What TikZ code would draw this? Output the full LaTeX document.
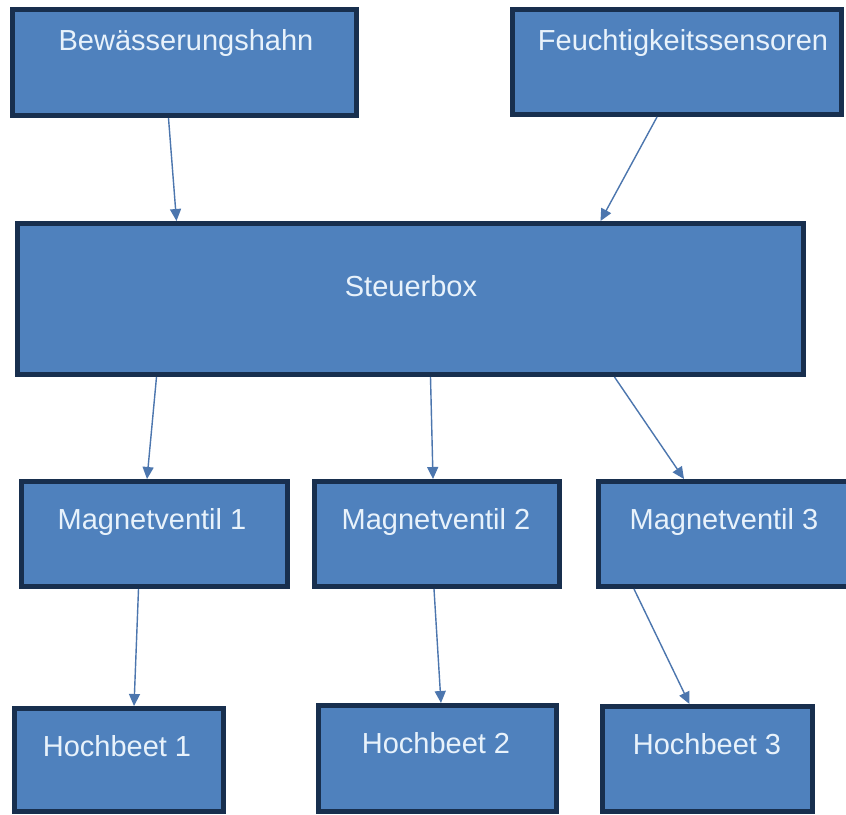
\documentclass[tikz,border=0pt]{standalone}
\usepackage{fontspec}
\setmainfont{Liberation Sans}
\usetikzlibrary{arrows.meta}
\definecolor{boxfill}{HTML}{4F81BD}
\definecolor{boxedge}{HTML}{182F4E}
\definecolor{linkblue}{HTML}{4C76AE}
\definecolor{labeltext}{HTML}{E8F2FB}
\tikzset{
  block/.style={draw=boxedge, fill=boxfill, line width=5pt, rectangle, inner sep=0pt},
  caption/.style={text=labeltext, anchor=base, inner sep=0pt, font=\fontsize{29}{34}\selectfont},
  link/.style={draw=linkblue, line width=1.4pt, -{Triangle[length=12pt,width=11pt]}},
}
\begin{document}
\begin{tikzpicture}[x=1pt,y=-1pt]
\useasboundingbox[fill=white] (0,0) rectangle (846,814);

% top row
\node[block, minimum width=344pt, minimum height=106pt] (b1) at (184.5,62.5) {};
\node[block, minimum width=329pt, minimum height=105pt] (b2) at (677,62) {};
% control box
\node[block, minimum width=786pt, minimum height=151pt] (st) at (410.5,299) {};
% valves
\node[block, minimum width=266pt, minimum height=105pt] (m1) at (154.5,534) {};
\node[block, minimum width=245pt, minimum height=105pt] (m2) at (437,534) {};
\node[block, minimum width=252pt, minimum height=105pt] (m3) at (724,534) {};
% raised beds
\node[block, minimum width=209pt, minimum height=103pt] (h1) at (119,760) {};
\node[block, minimum width=238pt, minimum height=106pt] (h2) at (437.5,758.5) {};
\node[block, minimum width=210pt, minimum height=105pt] (h3) at (707.5,759) {};

% captions
\node[caption] (t1) at (186,50) {Bewässerungshahn};
\node[caption] (t2) at (683,50) {Feuchtigkeitssensoren};
\node[caption] (t3) at (411,296) {Steuerbox};
\node[caption] (t4) at (152,529) {Magnetventil 1};
\node[caption] (t5) at (436,529) {Magnetventil 2};
\node[caption] (t6) at (724,529) {Magnetventil 3};
\node[caption] (t7) at (117,756) {Hochbeet 1};
\node[caption] (t8) at (436,753) {Hochbeet 2};
\node[caption] (t9) at (707,754) {Hochbeet 3};

% connectors
\draw[link] ([xshift=-16pt]b1.south) -- ([xshift=-234pt]st.north);
\draw[link] ([xshift=-20pt]b2.south) -- ([xshift=190pt]st.north);
\draw[link] ([xshift=-254pt]st.south) -- ([xshift=-7.5pt]m1.north);
\draw[link] ([xshift=20pt]st.south) -- ([xshift=-4pt]m2.north);
\draw[link] ([xshift=204pt]st.south) -- ([xshift=-40pt]m3.north);
\draw[link] ([xshift=-16pt]m1.south) -- ([xshift=15pt]h1.north);
\draw[link] ([xshift=-3pt]m2.south) -- ([xshift=3.5pt]h2.north);
\draw[link] ([xshift=-90pt]m3.south) -- ([xshift=-18pt]h3.north);
\end{tikzpicture}
\end{document}
